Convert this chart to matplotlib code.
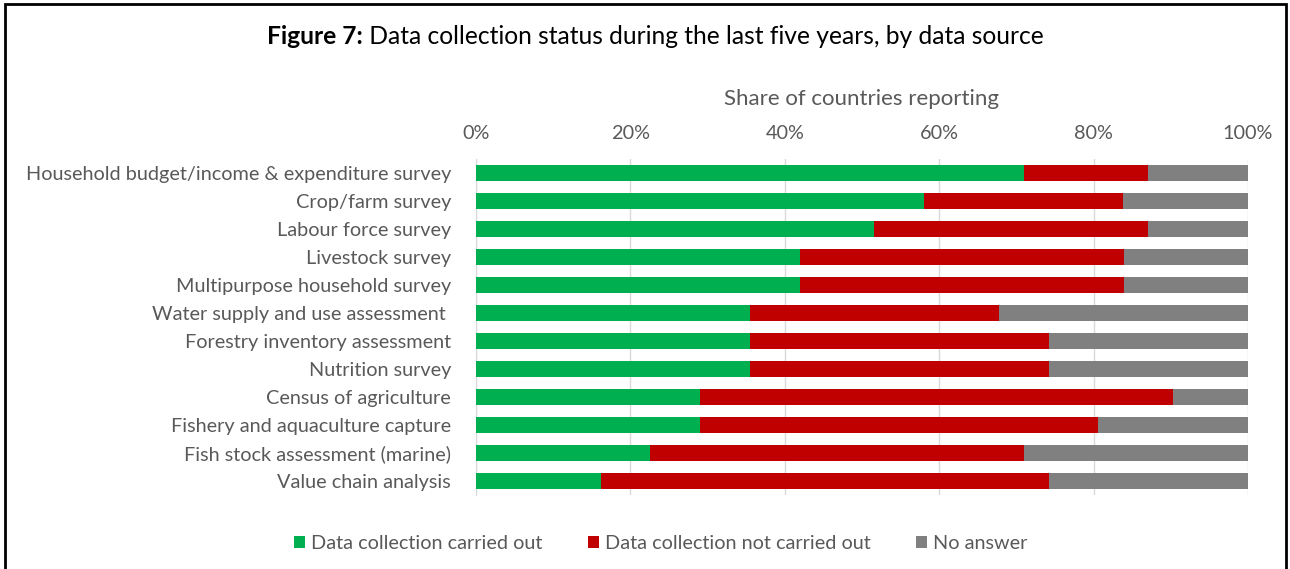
import numpy as np
import matplotlib
matplotlib.use('Agg')
import matplotlib.pyplot as plt
from matplotlib.patches import Rectangle

plt.rcParams['font.family'] = ['Lato', 'DejaVu Sans']

categories = [
    'Household budget/income & expenditure survey',
    'Crop/farm survey',
    'Labour force survey',
    'Livestock survey',
    'Multipurpose household survey',
    'Water supply and use assessment ',
    'Forestry inventory assessment',
    'Nutrition survey',
    'Census of agriculture',
    'Fishery and aquaculture capture',
    'Fish stock assessment (marine)',
    'Value chain analysis',
]
# share of countries (%)
carried_out = [70.97, 58.06, 51.61, 41.94, 41.94, 35.48, 35.48, 35.48, 29.03, 29.03, 22.58, 16.13]
not_carried_out = [16.13, 25.81, 35.48, 41.94, 41.94, 32.26, 38.71, 38.71, 61.29, 51.61, 48.39, 58.06]
no_answer = [12.90, 16.13, 12.90, 16.13, 16.13, 32.26, 25.81, 25.81, 9.68, 19.35, 29.03, 25.81]
series_names = ['Data collection carried out', 'Data collection not carried out', 'No answer']
colors = ['#00B050', '#C00000', '#808080']
tick_vals = [0, 20, 40, 60, 80, 100]

text_col = '#595959'

fig = plt.figure(figsize=(12.9, 5.69), dpi=100)
ax = fig.add_axes([0.369, 0.130, 0.5984, 0.5905])

y = np.arange(len(categories))
left = np.zeros(len(categories))
for vals, name, c in zip([carried_out, not_carried_out, no_answer], series_names, colors):
    ax.barh(y, vals, left=left, height=0.57, color=c, label=name, zorder=3)
    left = left + np.array(vals)

ax.set_ylim(len(categories) - 0.5, -0.5)
ax.set_xlim(0, 100)
ax.set_yticks(y)
ax.set_yticklabels(categories, fontsize=14.3, color=text_col)
ax.set_xticks(tick_vals)
ax.set_xticklabels([f'{v}%' for v in tick_vals], fontsize=14.3, color=text_col)
ax.xaxis.tick_top()
ax.xaxis.set_label_position('top')
ax.set_xlabel('Share of countries reporting', fontsize=16, color=text_col, labelpad=15)
ax.tick_params(axis='y', length=0, pad=18)
ax.tick_params(axis='x', length=0, pad=12)
ax.grid(axis='x', color='#D9D9D9', linewidth=1, zorder=0)
for s in ['top', 'right', 'bottom']:
    ax.spines[s].set_visible(False)
ax.spines['left'].set_color('#D9D9D9')

leg = fig.legend(loc='center', bbox_to_anchor=(0.512, 0.044), ncol=3, frameon=False,
                 fontsize=14.3, handlelength=0.55, handleheight=0.55, handletextpad=0.3,
                 columnspacing=2.3)
for t in leg.get_texts():
    t.set_color(text_col)

# title: bold prefix + regular remainder
fig.canvas.draw()
r = fig.canvas.get_renderer()
t1 = fig.text(0, 0.935, 'Figure 7:', fontsize=17.7, fontweight='bold', color='black', va='center')
t2 = fig.text(0, 0.935, ' Data collection status during the last five years, by data source',
              fontsize=17.7, color='black', va='center')
w1 = t1.get_window_extent(r).width / fig.bbox.width
w2 = t2.get_window_extent(r).width / fig.bbox.width
x0 = 0.508 - (w1 + w2) / 2
t1.set_x(x0)
t2.set_x(x0 + w1)

fig.patches.append(Rectangle((0.004, -0.05), 0.993, 1.043, transform=fig.transFigure,
                             fill=False, edgecolor='black', linewidth=2))

fig.savefig('out.png', dpi=100)
